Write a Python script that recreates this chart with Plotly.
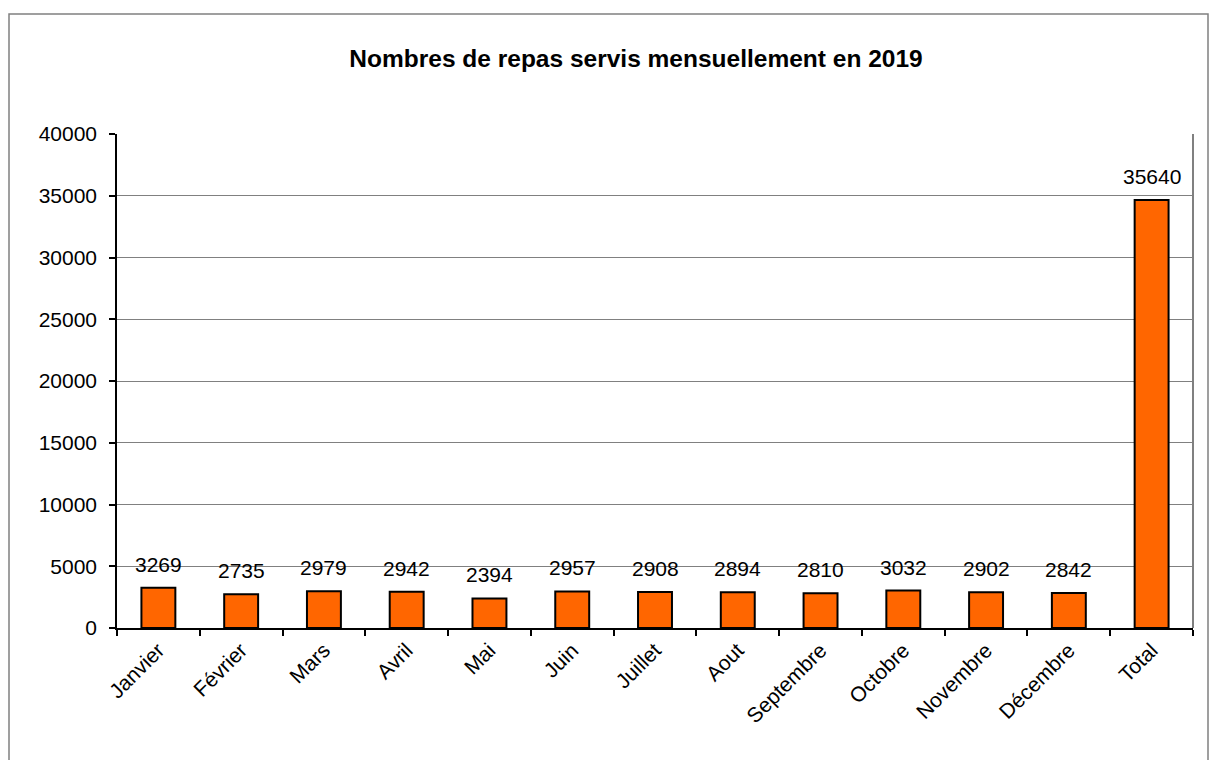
import plotly.graph_objects as go

categories = ["Janvier", "Février", "Mars", "Avril", "Mai", "Juin", "Juillet", "Aout",
              "Septembre", "Octobre", "Novembre", "Décembre", "Total"]
values = [3269, 2735, 2979, 2942, 2394, 2957, 2908, 2894, 2810, 3032, 2902, 2842, 34664]
labels = ["3269", "2735", "2979", "2942", "2394", "2957", "2908", "2894", "2810", "3032",
          "2902", "2842", "35640"]
y_ticks = [0, 5000, 10000, 15000, 20000, 25000, 30000, 35000, 40000]

FONT = "Liberation Sans, Arial, sans-serif"
FS = 21

fig = go.Figure()
fig.add_trace(go.Bar(
    x=categories, y=values,
    marker=dict(color="#FF6600", line=dict(color="black", width=2)),
    width=0.41,
    hoverinfo="x+y",
))

for c, v, t in zip(categories, values, labels):
    fig.add_annotation(x=c, y=v, text=t, showarrow=False, yanchor="bottom",
                       yshift=10, font=dict(family=FONT, size=FS, color="black"))

L, R, T, B = 117, 16, 134, 132
W, H = 1209, 760
pw, ph = W - L - R, H - T - B

def px(x):
    return (x - L) / pw

def py(y):
    return 1 - (y - T) / ph

fig.add_shape(type="rect", xref="paper", yref="paper",
              x0=px(9), x1=px(1208), y0=py(800), y1=py(14),
              line=dict(color="#808080", width=1.5), fillcolor="rgba(0,0,0,0)", layer="below")

fig.update_layout(
    width=W, height=H,
    margin=dict(l=L, r=R, t=T, b=B),
    paper_bgcolor="white", plot_bgcolor="white",
    showlegend=False,
    title=dict(text="<b>Nombres de repas servis mensuellement en 2019</b>",
               x=636 / W, xanchor="center", y=1 - 58 / H, yanchor="middle",
               font=dict(family=FONT, size=24.5, color="black")),
    font=dict(family=FONT, size=FS, color="black"),
    bargap=0.59,
)

fig.update_xaxes(
    tickangle=-45, showline=True, linecolor="black", linewidth=1.5,
    ticks="outside", tickson="boundaries", ticklen=6, tickcolor="black", tickwidth=1.5,
    mirror=False, showgrid=False,
    tickfont=dict(family=FONT, size=FS, color="black"),
)
fig.update_yaxes(
    range=[0, 40000], tickvals=y_ticks, ticktext=[str(v) for v in y_ticks],
    showline=True, linecolor="black", linewidth=1.5,
    ticks="outside", ticklen=6, tickcolor="black", tickwidth=1.5,
    showgrid=True, gridcolor="#808080", gridwidth=1,
    zeroline=False, ticklabelstandoff=8,
    tickfont=dict(family=FONT, size=FS, color="black"),
)

fig.add_shape(type="line", xref="paper", yref="paper", x0=1, x1=1, y0=0, y1=1,
              line=dict(color="#808080", width=2))

fig.write_html("out.html")
